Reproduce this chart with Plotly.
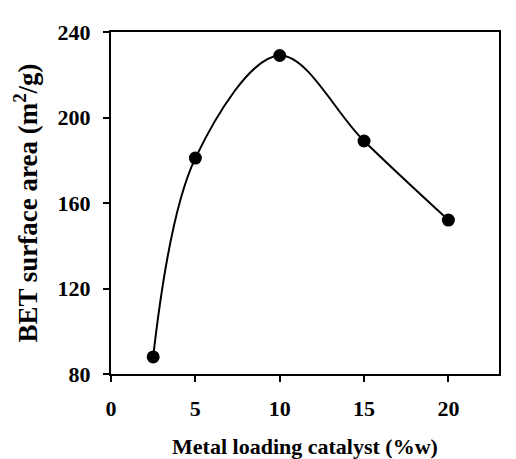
import plotly.graph_objects as go

loading = [2.5, 5, 10, 15, 20]
bet_area = [88, 181, 229, 189, 152]
x_ticks = [0, 5, 10, 15, 20]
y_ticks = [80, 120, 160, 200, 240]

font_family = "Liberation Serif"

fig = go.Figure()
fig.add_trace(go.Scatter(
    x=loading, y=bet_area, mode="lines+markers",
    line=dict(color="black", width=2, shape="spline", smoothing=1.0),
    marker=dict(color="black", size=13, symbol="circle"),
    showlegend=False,
))

axis_common = dict(
    showline=True, linecolor="black", linewidth=2, mirror=True,
    ticks="outside", ticklen=6, tickwidth=2, tickcolor="black",
    showgrid=False, zeroline=False, automargin=False,
    tickfont=dict(family=font_family, size=22, color="black", weight="bold"),
)

fig.update_xaxes(
    range=[0, 23], tickvals=x_ticks, ticktext=[str(v) for v in x_ticks],
    title=dict(text="Metal loading catalyst (%w)", standoff=22,
               font=dict(family=font_family, size=22, color="black", weight="bold")),
    ticklabelstandoff=8,
    **axis_common,
)
fig.update_yaxes(
    range=[80, 240], tickvals=y_ticks, ticktext=[str(v) for v in y_ticks],
    title=dict(text="BET surface area (m<sup>2</sup>/g)", standoff=12,
               font=dict(family=font_family, size=27, color="black", weight="bold")),
    ticklabelstandoff=8,
    **axis_common,
)

fig.update_layout(
    width=516, height=459,
    margin=dict(l=111, r=17, t=32, b=85),
    paper_bgcolor="white", plot_bgcolor="white",
)

fig.write_html("out.html", config={"displayModeBar": False},
               post_script="document.body.style.margin='0';document.body.style.overflow='hidden';")
